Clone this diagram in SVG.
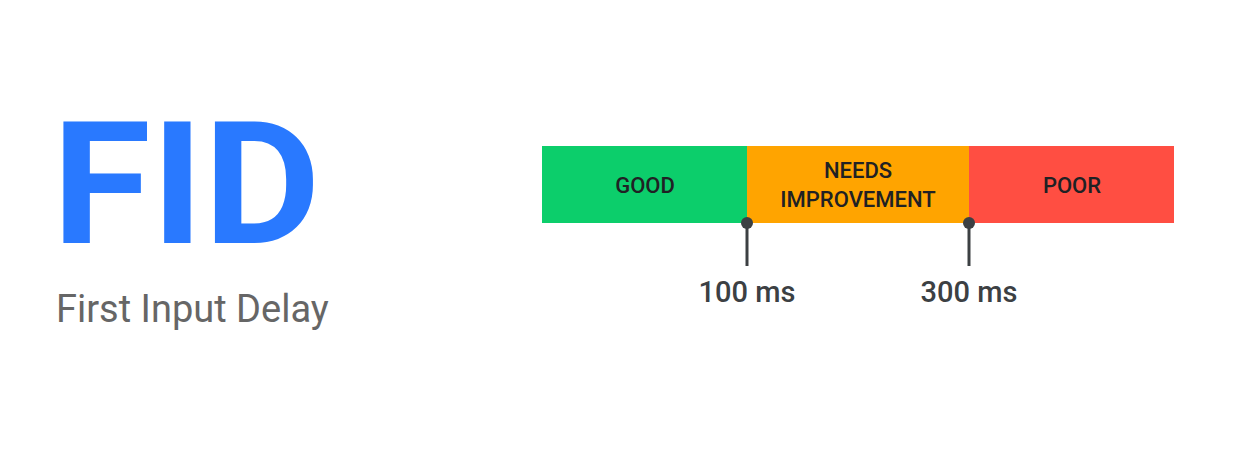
<svg xmlns="http://www.w3.org/2000/svg" width="1234" height="475" viewBox="0 0 1234 475">
<style>
.lbl{font-family:Roboto,"Liberation Sans",sans-serif;font-size:22px;fill:#202124;text-anchor:middle;font-weight:500}
.ms{font-family:Roboto,"Liberation Sans",sans-serif;font-size:29px;fill:#3c4043;text-anchor:middle;font-weight:500}
</style>
<rect width="1234" height="475" fill="#fff"/>
<g id="title"><text transform="translate(52 243) scale(1.06 1)" font-family="Roboto,'Liberation Sans',sans-serif" font-size="170" font-weight="700" fill="#2979ff">FID</text>
<text x="56" y="322" font-family="Roboto,'Liberation Sans',sans-serif" font-size="38" fill="#666">First Input Delay</text></g>
<g id="good"><rect x="542" y="146" width="205" height="77" fill="#0cce6b"/><text class="lbl" x="645" y="193">GOOD</text></g>
<g id="needs"><rect x="747" y="146" width="222" height="77" fill="#ffa400"/><text class="lbl" x="858" y="178">NEEDS</text><text class="lbl" x="858" y="207">IMPROVEMENT</text></g>
<g id="poor"><rect x="969" y="146" width="205" height="77" fill="#ff4e42"/><text class="lbl" x="1072" y="193">POOR</text></g>
<g id="connectors" stroke="#3c4043" stroke-width="3" fill="#3c4043">
<line x1="747" y1="223" x2="747" y2="266"/><circle cx="747" cy="223" r="6" stroke="none"/>
<line x1="969" y1="223" x2="969" y2="266"/><circle cx="969" cy="223" r="6" stroke="none"/>
</g>
<text class="ms" x="747" y="302">100 ms</text>
<text class="ms" x="969" y="302">300 ms</text>
</svg>
